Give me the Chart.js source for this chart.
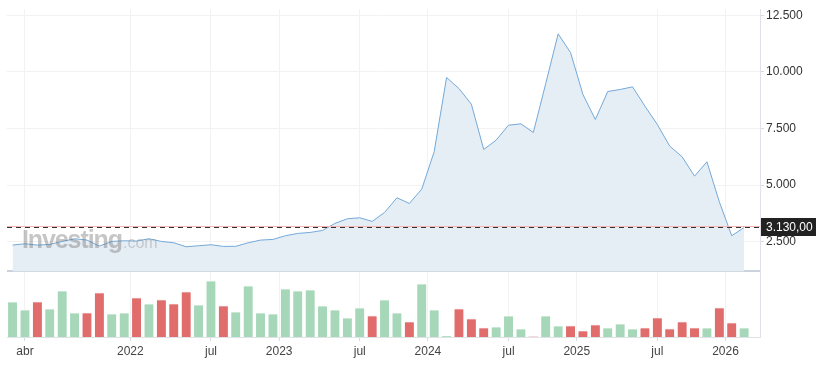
<!DOCTYPE html>
<html lang="es">
<head>
    <meta charset="UTF-8">
    <title>Precio mensual</title>
    <script src="https://cdn.jsdelivr.net/npm/chart.js@4.4.1/dist/chart.umd.min.js"></script>
    <style>
        body { margin: 0; background: #fff; }
        #wrap { position: relative; width: 823px; height: 373px; }
    </style>
</head>
<body>
    <div id="wrap"><canvas id="priceChart"></canvas></div>

    <script>
        // monthly closes, mar 2021 .. feb 2026
        var closes = [
            2353, 2412, 2353, 2382, 2515, 2632, 2574, 2309, 2515, 2544,
            2530, 2632, 2515, 2456, 2279, 2324, 2368, 2294, 2300, 2456,
            2574, 2603, 2765, 2868, 2912, 3000, 3309, 3515, 3559, 3397,
            3794, 4441, 4191, 4823, 6471, 9750, 9265, 8574, 6574, 6985,
            7647, 7706, 7324, 9485, 11676, 10853, 9000, 7897, 9132, 9221,
            9338, 8485, 7676, 6721, 6250, 5397, 6029, 4265, 2765, 3130
        ];
        // monthly volume (relative units)
        var volumes = [
            105, 81, 105, 84, 138, 72, 72, 132, 69, 72,
            117, 99, 111, 99, 135, 96, 168, 93, 75, 153,
            72, 69, 144, 138, 141, 93, 81, 57, 87, 63,
            111, 72, 45, 159, 81, 3, 84, 54, 27, 30,
            63, 24, 0, 63, 33, 33, 18, 36, 27, 39,
            24, 27, 57, 24, 45, 27, 27, 87, 42, 27
        ];
        var lastPrice = 3130;
        var priceTicks = [2500, 5000, 7500, 10000, 12500];
        var panelFloor = 1200;   // bottom edge of the price panel
        var xTickPos = [1, 9.5, 16, 21.5, 28, 33.5, 40, 45.5, 52, 57.5];
        var xTickLabels = ['abr', '2022', 'jul', '2023', 'jul', '2024', 'jul', '2025', 'jul', '2026'];

        function fmtThousands(v) {
            return String(Math.round(v)).replace(/\B(?=(\d{3})+(?!\d))/g, '.');
        }
        function fmtPrice(v) {
            return fmtThousands(Math.floor(v)) + ',' + String(Math.round((v % 1) * 100)).padStart(2, '0');
        }

        var up = closes.map(function (c, i) { return i === 0 || c >= closes[i - 1]; });

        var lastPricePlugin = {
            id: 'lastPrice',
            afterDatasetsDraw: function (chart) {
                // watermark, semi transparent over the area
                var ctx = chart.ctx;
                ctx.save();
                ctx.textBaseline = 'alphabetic';
                ctx.fillStyle = 'rgba(120,120,120,0.42)';
                ctx.font = 'bold 25px "Liberation Sans", Arial, sans-serif';
                ctx.letterSpacing = '-1.1px';
                ctx.fillText('Investing', 22, 248);
                ctx.letterSpacing = '0px';
                ctx.fillStyle = 'rgba(130,130,130,0.35)';
                ctx.font = '16px "Liberation Sans", Arial, sans-serif';
                ctx.fillText('.com', 123, 248);
                ctx.restore();
            },
            afterDraw: function (chart) {
                var ctx = chart.ctx;
                var area = chart.chartArea;
                var y = Math.round(chart.scales.y.getPixelForValue(lastPrice)) + 0.5;
                ctx.save();
                ctx.strokeStyle = '#f3b3b3';
                ctx.lineWidth = 1;
                ctx.beginPath();
                ctx.moveTo(area.left, y - 1);
                ctx.lineTo(area.right, y - 1);
                ctx.stroke();
                ctx.strokeStyle = '#333';
                ctx.setLineDash([5, 4]);
                ctx.beginPath();
                ctx.moveTo(area.left, y);
                ctx.lineTo(area.right, y);
                ctx.stroke();
                ctx.setLineDash([]);
                ctx.fillStyle = '#222';
                ctx.fillRect(area.right + 1, y - 9.5, 55, 18);
                ctx.fillStyle = '#fff';
                ctx.font = '12px "Liberation Sans", Arial, sans-serif';
                ctx.textBaseline = 'middle';
                ctx.fillText(fmtPrice(lastPrice), area.right + 6, y);
                ctx.restore();
            }
        };

        var ctx = document.getElementById('priceChart').getContext('2d');
        var chart = new Chart(ctx, {
            data: {
                datasets: [{
                    type: 'line',
                    label: 'Precio',
                    data: closes.map(function (v, i) { return { x: i, y: v }; }),
                    borderColor: '#74a9d8',
                    borderWidth: 1,
                    backgroundColor: '#e5edf5',
                    fill: { value: panelFloor },
                    pointRadius: 0,
                    tension: 0,
                    xAxisID: 'x',
                    yAxisID: 'y'
                }, {
                    type: 'bar',
                    label: 'Volumen',
                    data: volumes.map(function (v, i) { return { x: i, y: v }; }),
                    backgroundColor: up.map(function (u) { return u ? '#a6d7b8' : '#e06c6c'; }),
                    borderColor: up.map(function (u) { return u ? '#d3ecdc' : '#eda8a8'; }),
                    borderWidth: { top: 1, right: 0, bottom: 0, left: 0 },
                    borderSkipped: false,
                    barThickness: 9,
                    xAxisID: 'x',
                    yAxisID: 'yv'
                }]
            },
            options: {
                responsive: true,
                maintainAspectRatio: false,
                devicePixelRatio: 1,
                animation: false,
                layout: { padding: { top: 9, left: 7, right: 0, bottom: 0 } },
                plugins: {
                    legend: { display: false },
                    tooltip: { enabled: false }
                },
                scales: {
                    x: {
                        type: 'linear',
                        min: -0.45,
                        max: 60.28,
                        offset: false,
                        afterBuildTicks: function (s) {
                            s.ticks = xTickPos.map(function (v) { return { value: v }; });
                        },
                        afterFit: function (s) { s.height = 36; },
                        grid: {
                            offset: false,
                            color: '#f2f2f2',
                            tickColor: '#d8dce2',
                            tickLength: 4
                        },
                        border: { color: '#dfe2e7' },
                        ticks: {
                            padding: 3,
                            maxRotation: 0,
                            autoSkip: false,
                            color: '#444',
                            font: { family: '"Liberation Sans", Arial, sans-serif', size: 12 },
                            callback: function (v) {
                                var k = xTickPos.indexOf(v);
                                return k >= 0 ? xTickLabels[k] : '';
                            }
                        }
                    },
                    y: {
                        type: 'linear',
                        position: 'right',
                        min: -1704,
                        max: 12765,
                        afterBuildTicks: function (s) {
                            s.ticks = [panelFloor].concat(priceTicks).map(function (v) { return { value: v }; });
                        },
                        afterFit: function (s) { s.width = 63; },
                        grid: {
                            color: function (c) { return c.tick && c.tick.value === panelFloor ? '#ccd2db' : '#f2f2f2'; },
                            lineWidth: function (c) { return c.tick && c.tick.value === panelFloor ? 2 : 1; },
                            tickColor: function (c) { return c.tick && c.tick.value === panelFloor ? 'rgba(0,0,0,0)' : '#d8dce2'; },
                            tickLength: 4
                        },
                        border: { color: '#dfe2e7' },
                        ticks: {
                            padding: 2,
                            color: '#333',
                            font: { family: '"Liberation Sans", Arial, sans-serif', size: 12 },
                            callback: function (v) { return v === panelFloor ? '' : fmtThousands(v); }
                        }
                    },
                    yv: {
                        type: 'linear',
                        display: false,
                        min: 0,
                        max: 984
                    }
                }
            },
            plugins: [lastPricePlugin]
        });
    </script>
</body>
</html>
